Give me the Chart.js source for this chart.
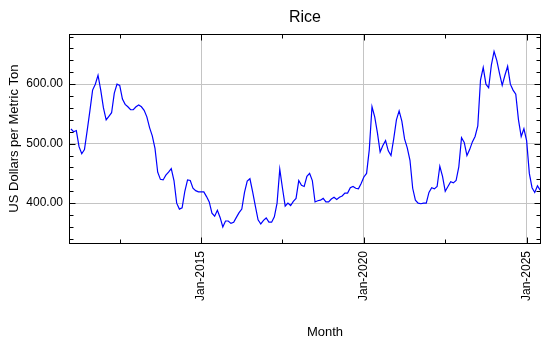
<!DOCTYPE html>
<html>
<head>
<meta charset="utf-8">
<script src="https://cdn.jsdelivr.net/npm/chart.js@4/dist/chart.umd.min.js"></script>
<style>
  body { margin: 0; background: #fff; }
  canvas { display: block; }
</style>
</head>
<body>
<canvas id="chart" width="550" height="350"></canvas>
<script>
// Monthly rice price, Jan-2011 .. Jun-2025 (index 0 = Jan-2011)
const startYear = 2011;
const prices = [
  525, 520, 522, 495, 483, 490, 522, 555, 590, 600, 615, 590,
  560, 540, 546, 552, 585, 600, 598, 575, 566, 562, 557, 557,
  562, 565, 562, 556, 545, 527, 513, 492, 452, 440, 439, 447,
  452, 458, 438, 400, 390, 392, 420, 439, 438, 425, 421, 419,
  419, 419, 411, 402, 383, 378, 388, 376, 360, 370, 370, 366,
  368, 376, 384, 390, 418, 437, 441, 419, 395, 372, 365, 371,
  375, 368, 368, 377, 400, 457, 425, 395, 400, 396, 403, 408,
  438, 430, 428, 445, 450, 438, 402, 404, 405, 408, 402, 402,
  407, 410, 406, 410, 412, 417, 417, 426, 428, 425, 424, 433,
  444, 450, 490, 562, 545, 518, 486, 497, 505, 488, 480, 508,
  540, 555, 538, 508, 493, 472, 425, 405, 400, 399, 400, 400,
  418, 426, 424, 428, 462, 445, 420, 428, 436, 434, 438, 461,
  510, 502, 480, 490, 503, 512, 530, 607, 628, 600, 594, 632,
  655, 640, 618, 598, 615, 630, 600, 590, 583, 540, 512, 525,
  505, 450, 426, 418, 429, 422
];
const tickMonths = [48, 108, 168];
const tickLabels = ['Jan-2015', 'Jan-2020', 'Jan-2025'];
const minorMonths = [18, 78, 138];
const yTicks = [400, 500, 600];
const yMinorStep = 20;

const points = prices.map((v, i) => ({ x: i, y: v }));

Chart.defaults.font.family = '"Liberation Sans", Arial, sans-serif';
Chart.defaults.color = '#000';

// frame, inward tick marks and the x axis title
const frameAndTicks = {
  id: 'frameAndTicks',
  afterDraw(chart) {
    const { ctx, chartArea: a, scales: { x, y } } = chart;
    const L = Math.floor(a.left) + 0.5, R = Math.floor(a.right) - 0.5;
    const T = Math.floor(a.top) + 0.5, B = Math.floor(a.bottom) + 0.5;
    ctx.save();
    ctx.strokeStyle = '#000';
    ctx.lineWidth = 1;
    ctx.beginPath();
    const yMinor = [];
    for (let v = Math.ceil(y.min / yMinorStep) * yMinorStep; v <= y.max; v += yMinorStep) yMinor.push(v);
    yMinor.forEach(v => {
      const py = Math.round(y.getPixelForValue(v)) + 0.5;
      const len = yTicks.includes(v) ? 6 : 4;
      ctx.moveTo(L, py); ctx.lineTo(L + len, py);
      ctx.moveTo(R, py); ctx.lineTo(R - len, py);
    });
    tickMonths.concat(minorMonths).forEach(m => {
      const px = Math.round(x.getPixelForValue(m)) + 0.5;
      const len = tickMonths.includes(m) ? 6 : 4;
      ctx.moveTo(px, B); ctx.lineTo(px, B - len);
      ctx.moveTo(px, T); ctx.lineTo(px, T + len);
    });
    ctx.stroke();
    ctx.strokeRect(L, T, R - L, B - T);
    ctx.fillStyle = '#000';
    ctx.font = '13px "Liberation Sans", Arial, sans-serif';
    ctx.textAlign = 'center';
    ctx.textBaseline = 'middle';
    ctx.fillText('Month', 325, 332);
    ctx.restore();
  }
};

new Chart(document.getElementById('chart'), {
  type: 'line',
  data: {
    datasets: [{
      label: 'Rice',
      data: points,
      borderColor: '#0000ff',
      borderWidth: 1.2,
      pointRadius: 0,
      tension: 0,
      fill: false
    }]
  },
  options: {
    responsive: false,
    animation: false,
    layout: { padding: { left: 0, right: 9, top: 0, bottom: 0 } },
    plugins: {
      legend: { display: false },
      tooltip: { enabled: false },
      title: {
        display: true,
        text: 'Rice',
        fullSize: false,
        color: '#000',
        font: { size: 16, weight: 'normal' },
        padding: { top: 8, bottom: 7 }
      }
    },
    scales: {
      x: {
        type: 'linear',
        min: -0.7,
        max: 173.3,
        afterBuildTicks: s => { s.ticks = tickMonths.map(v => ({ value: v })); },
        afterFit: s => { s.height = 107; },
        grid: { color: '#c4c4c4', drawTicks: false },
        border: { display: false },
        ticks: {
          autoSkip: false,
          minRotation: 90,
          maxRotation: 90,
          padding: 8,
          font: { size: 12 },
          callback: v => tickLabels[tickMonths.indexOf(v)]
        }
      },
      y: {
        min: 333,
        max: 684,
        afterBuildTicks: s => { s.ticks = yTicks.map(v => ({ value: v })); },
        afterFit: s => { s.width = 69; },
        grid: { color: '#c4c4c4', drawTicks: false },
        border: { display: false },
        ticks: {
          padding: 6,
          font: { size: 12 },
          callback: v => v.toFixed(2)
        },
        title: {
          display: true,
          text: 'US Dollars per Metric Ton',
          font: { size: 13 },
          padding: { top: 7, bottom: 0 }
        }
      }
    }
  },
  plugins: [frameAndTicks]
});
</script>
</body>
</html>
